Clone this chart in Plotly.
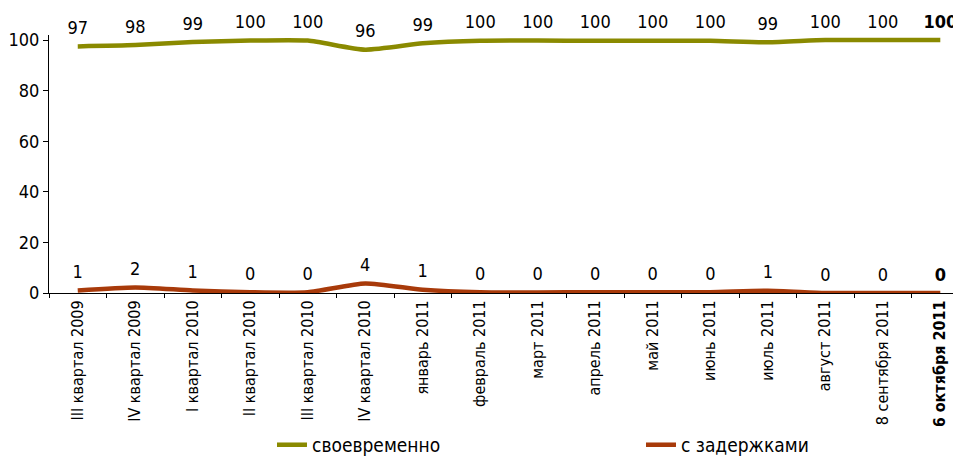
import plotly.graph_objects as go

categories = ["III квартал 2009", "IV квартал 2009", "I квартал 2010", "II квартал 2010",
              "III квартал 2010", "IV квартал 2010", "январь 2011", "февраль 2011",
              "март 2011", "апрель 2011", "май 2011", "июнь 2011", "июль 2011",
              "август 2011", "18 сентября 2011", "16 октября 2011"]
on_time = [97.5, 98.0, 99.2, 99.8, 99.8, 96.2, 98.7, 99.7, 99.8, 99.7, 99.7, 99.7, 99.1, 100, 100, 100]
on_time_labels = ["97", "98", "99", "100", "100", "96", "99", "100", "100", "100", "100", "100", "99", "100", "100", "100"]
delayed = [1.0, 2.2, 1.0, 0.3, 0.3, 3.8, 1.3, 0.3, 0.2, 0.3, 0.3, 0.3, 0.9, 0.0, 0.0, 0.0]
delayed_labels = ["1", "2", "1", "0", "0", "4", "1", "0", "0", "0", "0", "0", "1", "0", "0", "0"]
y_ticks = [0, 20, 40, 60, 80, 100]

FONT = "Liberation Sans Narrow, Arial Narrow, DejaVu Sans Condensed, sans-serif"
GREEN = "#8a8a00"
RED = "#a83a0a"

tick_text = categories[:-1] + ["<b>" + categories[-1] + "</b>"]

def boldlast(lbls):
    return lbls[:-1] + ["<b>" + lbls[-1] + "</b>"]

fig = go.Figure()
for name, vals, lbls, col in [("своевременно", on_time, on_time_labels, GREEN),
                              ("с задержками", delayed, delayed_labels, RED)]:
    fig.add_trace(go.Scatter(x=categories, y=vals, mode="lines+markers+text", name=name,
                             text=boldlast(lbls), textposition="top center",
                             textfont=dict(family=FONT, size=18, color="#000"),
                             marker=dict(size=11, color="rgba(0,0,0,0)",
                                         line=dict(width=0, color="rgba(0,0,0,0)")),
                             line=dict(color=col, width=4.5, shape="spline", smoothing=0.6),
                             cliponaxis=False, hoverinfo="skip"))

# The page body has an 8px margin, so the figure is sized/offset to compensate.
fig.update_layout(
    width=953, height=449,
    margin=dict(l=41, r=0, t=27, b=164, autoexpand=False),
    plot_bgcolor="white", paper_bgcolor="white",
    font=dict(family=FONT, size=16, color="#000"),
    showlegend=True,
    legend=dict(orientation="h", xref="container", yref="container",
                x=0.277, y=0.027, xanchor="left", yanchor="middle",
                entrywidth=324, entrywidthmode="pixels",
                font=dict(family=FONT, size=19, color="#000")),
    xaxis=dict(type="category", range=[-0.5, 15.36], tickmode="array", tickvals=categories,
               ticktext=tick_text, tickangle=-90, showgrid=False, zeroline=False, showline=True,
               linecolor="#000", linewidth=1, ticks="outside", tickson="boundaries",
               ticklen=4, tickcolor="#000", automargin=False, tickfont=dict(size=16)),
    yaxis=dict(range=[0, 102], tickvals=y_ticks, showgrid=False, zeroline=False,
               showline=True, linecolor="#000", linewidth=1, ticks="outside",
               ticklen=5, tickcolor="#000", automargin=False, tickfont=dict(size=18)),
)

fig.write_html("out.html")
